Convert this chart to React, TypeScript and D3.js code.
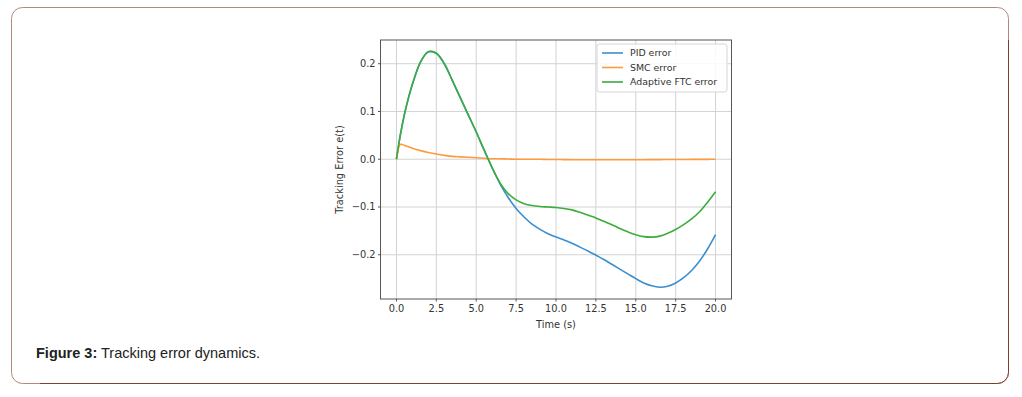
import * as d3 from 'd3';
import React from 'react';

// time samples (s)
const times = [0, 0.25, 0.5, 0.75, 1, 1.5, 2, 2.5, 3, 3.5, 4, 4.5, 5, 5.5, 6, 6.5, 7, 7.5, 8, 8.5, 9, 9.5, 10,
  10.5, 11, 11.5, 12, 12.5, 13, 13.5, 14, 14.5, 15, 15.5, 16, 16.5, 17, 17.5, 18, 18.5, 19, 19.5, 20];

const pidError = [0, 0.052, 0.094, 0.128, 0.157, 0.203, 0.225, 0.222, 0.2, 0.165, 0.129, 0.093, 0.057, 0.019, -0.018,
  -0.052, -0.08, -0.103, -0.121, -0.136, -0.147, -0.156, -0.163, -0.169, -0.176, -0.184, -0.192, -0.201, -0.21,
  -0.22, -0.23, -0.24, -0.25, -0.259, -0.265, -0.268, -0.266, -0.259, -0.248, -0.233, -0.213, -0.188, -0.158];

const smcError = [0, 0.031, 0.029, 0.026, 0.023, 0.018, 0.014, 0.011, 0.008, 0.006, 0.005, 0.004, 0.003, 0.002, 0.001,
  0.001, 0.0005, 0, 0, 0, 0, -0.0005, -0.0005, -0.0008, -0.001, -0.001, -0.001, -0.001, -0.001, -0.001, -0.001,
  -0.001, -0.001, -0.001, -0.0008, -0.0008, -0.0006, -0.0005, -0.0005, -0.0004, -0.0003, -0.0002, 0];

const ftcError = [0, 0.052, 0.094, 0.128, 0.157, 0.203, 0.225, 0.222, 0.2, 0.165, 0.129, 0.093, 0.057, 0.019, -0.018,
  -0.05, -0.072, -0.085, -0.093, -0.097, -0.099, -0.1, -0.101, -0.103, -0.106, -0.111, -0.117, -0.123, -0.13,
  -0.137, -0.145, -0.152, -0.158, -0.162, -0.163, -0.161, -0.155, -0.147, -0.137, -0.125, -0.11, -0.09, -0.068];

const seriesNames = ['PID error', 'SMC error', 'Adaptive FTC error'];
const seriesColors = ['#3a8fd0', '#ff9a3c', '#3cac3c'];
const xTicks = [0, 2.5, 5, 7.5, 10, 12.5, 15, 17.5, 20];
const yTicks = [-0.2, -0.1, 0, 0.1, 0.2];

const fmt = (v: number) => d3.format('.1f')(v).replace('-', '\u2212');

export default function App() {
  const left = 380.5, top = 40, w = 351, h = 259;
  const all = [pidError, smcError, ftcError];

  const xExt = d3.extent(times) as [number, number];
  const xPad = (xExt[1] - xExt[0]) * 0.05;
  const x = d3.scaleLinear().domain([xExt[0] - xPad, xExt[1] + xPad]).range([left, left + w]);

  const yMin = d3.min(all, s => d3.min(s)) as number;
  const yMax = d3.max(all, s => d3.max(s)) as number;
  const yPad = (yMax - yMin) * 0.05;
  const y = d3.scaleLinear().domain([yMin - yPad, yMax + yPad]).range([top + h, top]);

  const line = d3.line<number>()
    .x((_, i) => x(times[i]))
    .y(d => y(d))
    .curve(d3.curveCatmullRom.alpha(0.5));

  const tickFont = { fontFamily: 'DejaVu Sans', fontSize: 9.8, fill: '#333' };

  return (
    <svg width={1022} height={397} style={{ position: 'absolute', left: 0, top: 0, background: '#fff' }}>
      {/* card */}
      <rect x={11.5} y={7.5} width={997} height={376} rx={11} fill="#fff" stroke="#b08a80" strokeWidth={1} />
      <path d="M1008.5,40 V372.5 A11,11 0 0 1 997.5,383.5 H40" fill="none" stroke="#7e3f30" strokeWidth={1} />

      {/* grid */}
      <g stroke="#d3d3d3" strokeWidth={1}>
        {xTicks.map(t => <line key={'gx' + t} x1={x(t)} x2={x(t)} y1={top} y2={top + h} />)}
        {yTicks.map(t => <line key={'gy' + t} x1={left} x2={left + w} y1={y(t)} y2={y(t)} />)}
      </g>

      {/* series */}
      {all.map((s, i) => (
        <path key={seriesNames[i]} d={line(s) || ''} fill="none" stroke={seriesColors[i]} strokeWidth={1.6} />
      ))}

      {/* spines */}
      <rect x={left} y={top} width={w} height={h} fill="none" stroke="#555" strokeWidth={1} />

      {/* x axis */}
      {xTicks.map(t => (
        <g key={'xt' + t}>
          <line x1={x(t)} x2={x(t)} y1={top + h} y2={top + h + 2.5} stroke="#555" />
          <text x={x(t)} y={top + h + 13} textAnchor="middle" {...tickFont}>{fmt(t)}</text>
        </g>
      ))}
      <text x={left + w / 2} y={top + h + 29} textAnchor="middle" {...tickFont}>Time (s)</text>

      {/* y axis */}
      {yTicks.map(t => (
        <g key={'yt' + t}>
          <line x1={left - 2.5} x2={left} y1={y(t)} y2={y(t)} stroke="#555" />
          <text x={left - 5} y={y(t)} dy="0.35em" textAnchor="end" {...tickFont}>{fmt(t)}</text>
        </g>
      ))}
      <text transform={`translate(${343},${top + h / 2}) rotate(-90)`} textAnchor="middle" {...tickFont}>
        Tracking Error e(t)
      </text>

      {/* legend */}
      <rect x={597} y={44} width={130} height={48} rx={2.5} fill="#fff" fillOpacity={0.85} stroke="#d5d5d5" />
      {seriesNames.map((n, i) => (
        <g key={'lg' + n}>
          <line x1={602} x2={623} y1={53 + i * 14.5} y2={53 + i * 14.5} stroke={seriesColors[i]} strokeWidth={1.6} />
          <text x={630} y={53 + i * 14.5} dy="0.35em" {...tickFont} fontSize={9.4}>{n}</text>
        </g>
      ))}

      {/* caption */}
      <text x={36} y={358} fontFamily="Liberation Sans, Arial" fontSize={14.5} fill="#222">
        <tspan fontWeight="bold">Figure 3:</tspan>
        <tspan> Tracking error dynamics.</tspan>
      </text>
    </svg>
  );
}
